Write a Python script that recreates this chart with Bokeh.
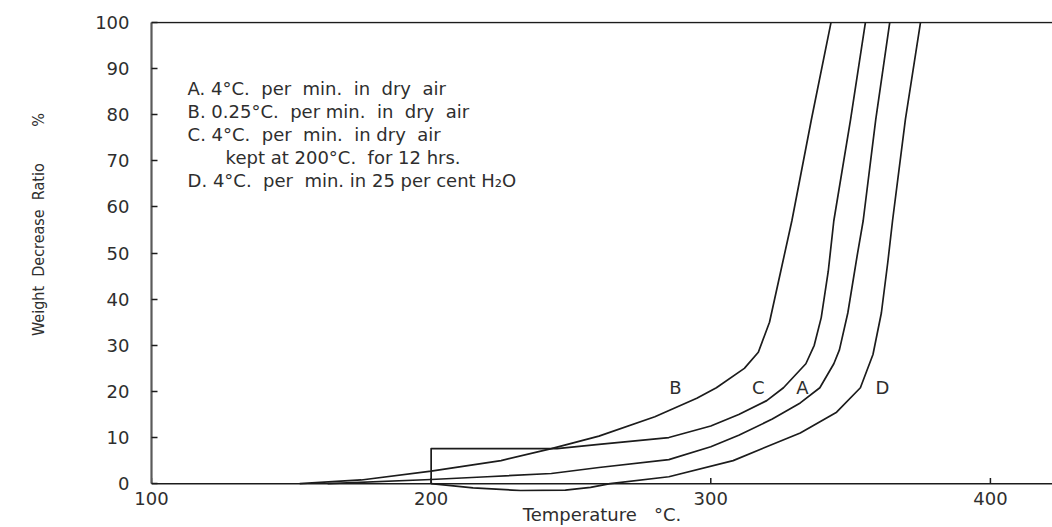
from bokeh.core.properties import value
from bokeh.embed import file_html
from bokeh.models import FixedTicker, Range1d, Span
from bokeh.plotting import figure
from bokeh.resources import INLINE

# Thermogravimetric curves: weight decrease ratio (%) against temperature (deg C)
temp_a = [163, 200, 220, 243, 260, 285, 300, 310, 322, 332, 339, 344, 346, 349, 352.5, 354.5, 359, 364]
wdr_a = [0, 0.9, 1.5, 2.2, 3.5, 5.2, 8.0, 10.5, 14.0, 17.5, 20.8, 26, 29, 37, 50, 57, 79, 100]

temp_b = [153, 175, 200, 225, 243, 260, 280, 295, 302, 312, 317, 321, 325, 329, 336, 343]
wdr_b = [0, 0.8, 2.7, 5.0, 7.6, 10.3, 14.5, 18.5, 20.8, 25, 28.5, 35, 46, 57, 79, 100]

temp_c = [200, 200, 245, 260, 285, 300, 310, 320, 326, 334, 337, 339.5, 342, 344, 350, 355.3]
wdr_c = [0, 7.6, 7.6, 8.5, 10, 12.5, 15, 18, 20.8, 26, 30, 36, 46, 57, 79, 100]

temp_d = [200, 215, 232, 248, 257, 264, 285, 308, 332, 345, 353.5, 358, 361, 363.3, 365, 369.6, 375]
wdr_d = [0, -0.9, -1.5, -1.4, -0.8, 0, 1.5, 5, 11, 15.5, 20.8, 28, 37, 48, 57, 79, 100]

curve_names = ["B", "C", "A", "D"]
curve_label_temp = [287.4, 317, 332.8, 361.4]
curve_label_wdr = [20.8, 20.8, 20.8, 20.8]

NB = "\u00a0"
legend_lines = [
    f"A.{NB}4°C.{NB}{NB}per{NB}{NB}min.{NB}{NB}in{NB}{NB}dry{NB}{NB}air",
    f"B.{NB}0.25°C.{NB}{NB}per{NB}min.{NB}{NB}in{NB}{NB}dry{NB}{NB}air",
    f"C.{NB}4°C.{NB}{NB}per{NB}{NB}min.{NB}{NB}in{NB}dry{NB}{NB}air",
    f"kept{NB}at{NB}200°C.{NB}{NB}for{NB}12{NB}hrs.",
    f"D.{NB}4°C.{NB}{NB}per{NB}{NB}min.{NB}in{NB}25{NB}per{NB}cent{NB}H₂O",
]
legend_indent = [0, 0, 0, 1, 0]

x_ticks = [100, 200, 300, 400]
y_ticks = [0, 10, 20, 30, 40, 50, 60, 70, 80, 90, 100]

x_title = f"Temperature{NB}{NB}{NB}°C."
y_title = NB * 14 + f"Weight{NB}{NB}Decrease{NB}{NB}Ratio" + NB * 8 + "%"

INK = "#1c1c1c"
TEXT = "#2e2e2e"
FONT = "DejaVu Sans"

p = figure(
    width=1052,
    height=527,
    output_backend="svg",
    toolbar_location=None,
    x_range=Range1d(100, 422.2),
    y_range=Range1d(-1.7, 100.2),
    min_border_left=151,
    min_border_right=0,
    min_border_top=21,
    min_border_bottom=36,
)
p.outline_line_color = None
p.grid.visible = False
p.background_fill_color = "white"
p.border_fill_color = "white"

# y axis: ticks point into the plot, axis line limited to 0..100
yax = p.yaxis[0]
yax.ticker = FixedTicker(ticks=y_ticks)
yax.bounds = (0, 100)
yax.axis_line_color = "#5a5a5a"
yax.axis_line_width = 2.2
yax.major_tick_in = 6
yax.major_tick_out = 0
yax.major_tick_line_color = INK
yax.major_tick_line_width = 1.5
yax.minor_tick_line_color = None
yax.major_label_standoff = 22
yax.major_label_text_font = FONT
yax.major_label_text_font_size = "18px"
yax.major_label_text_color = TEXT
yax.axis_label = y_title
yax.axis_label_standoff = 44
yax.axis_label_text_font = "DejaVu Sans Condensed"
yax.axis_label_text_font_size = "16px"
yax.axis_label_text_font_style = "normal"
yax.axis_label_text_color = TEXT

# x axis: only the labels; the baseline is drawn at zero below
xax = p.xaxis[0]
xax.ticker = FixedTicker(ticks=x_ticks)
xax.axis_line_color = None
xax.major_tick_line_color = None
xax.major_tick_in = 0
xax.major_tick_out = 0
xax.minor_tick_line_color = None
xax.major_label_standoff = 0
xax.major_label_text_font = FONT
xax.major_label_text_font_size = "18px"
xax.major_label_text_color = TEXT
xax.axis_label = x_title
xax.axis_label_standoff = -4
xax.axis_label_text_font = FONT
xax.axis_label_text_font_size = "18px"
xax.axis_label_text_font_style = "normal"
xax.axis_label_text_color = TEXT

# zero line and top border
p.add_layout(Span(location=0, dimension="width", line_color=INK, line_width=1.5))
p.add_layout(Span(location=100, dimension="width", line_color=INK, line_width=1.5))

# small upward ticks on the zero line
p.segment(x0=x_ticks, y0=[0] * len(x_ticks), x1=x_ticks, y1=[1.2] * len(x_ticks),
          line_color=INK, line_width=1.5)

# the four curves
for t, w in [(temp_a, wdr_a), (temp_b, wdr_b), (temp_c, wdr_c), (temp_d, wdr_d)]:
    p.line(t, w, line_color=INK, line_width=1.7, line_join="round")

# curve letters
p.text(x=curve_label_temp, y=curve_label_wdr, text=curve_names,
       text_font=value(FONT), text_font_size="18px", text_color=TEXT,
       text_align="center", text_baseline="middle")

# legend block in the upper left
legend_x0 = 112.9
legend_indent_step = 13.6
legend_y0 = 85.7
legend_dy = 5.0
lx = [legend_x0 + legend_indent_step * k for k in legend_indent]
ly = [legend_y0 - legend_dy * i for i in range(len(legend_lines))]
p.text(x=lx, y=ly, text=legend_lines,
       text_font=value(FONT), text_font_size="18px", text_color=TEXT,
       text_align="left", text_baseline="middle")

open("out.html", "w").write(file_html(p, INLINE))
